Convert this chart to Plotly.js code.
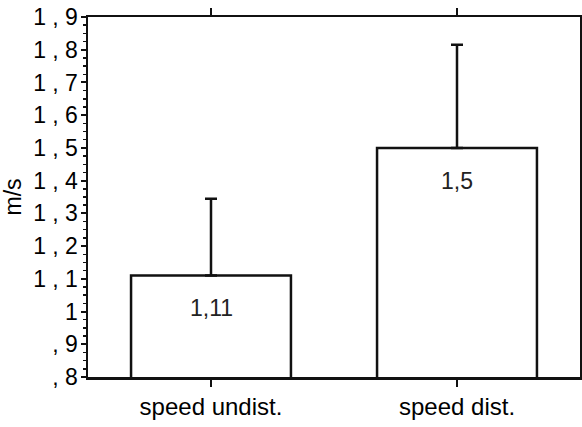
<!DOCTYPE html>
<html><head><meta charset="utf-8">
<script src="https://cdn.plot.ly/plotly-3.0.1.min.js"></script>
<style>html,body{margin:0;padding:0;background:#fff}</style>
</head><body><div id="chart" style="width:582px;height:427px"></div>
<script>
const categories = ["speed undist.", "speed dist."];
const values = [1.11, 1.5];
const errorsUp = [0.235, 0.315];
const yTickVals = [0.8, 0.9, 1.0, 1.1, 1.2, 1.3, 1.4, 1.5, 1.6, 1.7, 1.8, 1.9];
const yTickText = [", 8", ", 9", "1", "1 , 1", "1 , 2", "1 , 3", "1 , 4", "1 , 5", "1 , 6", "1 , 7", "1 , 8", "1 , 9"];

const font = {family: "Liberation Sans, Arial, sans-serif", color: "#000", size: 24};

const trace = {
  type: "bar", x: categories, y: values, width: 0.65,
  marker: {color: "#fff", line: {color: "#111", width: 2.5}},
  error_y: {type: "data", symmetric: false, array: errorsUp, arrayminus: values.map(() => 0),
            color: "#111", thickness: 2.5, width: 6},
  hoverinfo: "none"
};

const annotations = categories.map((c, i) => ({
  x: c, y: values[i] - 0.1, xref: "x", yref: "y",
  text: String(values[i]).replace(".", ","), showarrow: false,
  font: {family: font.family, size: 23, color: "#222"}
}));

const layout = {
  width: 582, height: 427,
  margin: {l: 88, r: 2, t: 17, b: 50},
  paper_bgcolor: "#fff", plot_bgcolor: "#fff",
  showlegend: false,
  font: font,
  xaxis: {type: "category", showline: true, linewidth: 2.5, linecolor: "#111", mirror: "ticks",
          ticks: "outside", ticklen: 7, tickwidth: 2, tickcolor: "#111", showgrid: false,
          tickfont: {size: 24}, zeroline: false, range: [-0.5, 1.5]},
  yaxis: {range: [0.8, 1.9], showline: true, linewidth: 2.5, linecolor: "#111", mirror: true,
          tickmode: "array", tickvals: yTickVals, ticktext: yTickText,
          ticks: "outside", ticklen: 5, tickwidth: 2, tickcolor: "#111",
          ticklabelstandoff: -2,
          showgrid: false, zeroline: false, tickfont: {size: 23},
          minor: {dtick: 0.025, ticks: "outside", ticklen: 3, tickwidth: 1.5, tickcolor: "#111", showgrid: false},
          title: {text: "m/s", font: {size: 23}, standoff: 10}},
  annotations: annotations
};

Plotly.newPlot("chart", [trace], layout, {displayModeBar: false, staticPlot: true});
</script></body></html>
